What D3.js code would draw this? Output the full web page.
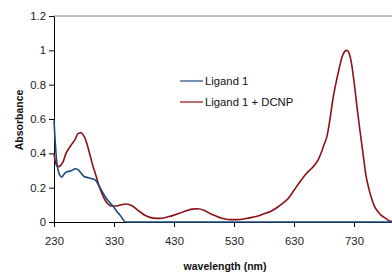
<!DOCTYPE html>
<html>
<head>
<meta charset="utf-8">
<script src="https://cdn.jsdelivr.net/npm/d3@7"></script>
<style>
  body { margin: 0; background: #fff; }
  svg { display: block; font-family: "Liberation Sans", Arial, sans-serif; }
  .tick text { font-size: 11.3px; fill: #222; }
</style>
</head>
<body>
<div id="chart"></div>
<script>
var width = 392, height = 273,
    margin = {top: 16, right: -4, bottom: 51, left: 54};

// Ligand 1
var blueNm  = [230,232,234,237,240,243,246,250,255,260,265,270,275,280,285,290,295,300,305,310,315,320,325,330,335,340,345,349,400,500,600,700,800];
var blueAbs = [0.59,0.47,0.37,0.30,0.27,0.262,0.275,0.29,0.295,0.30,0.31,0.305,0.285,0.265,0.26,0.255,0.25,0.24,0.21,0.18,0.15,0.125,0.105,0.085,0.06,0.04,0.015,0,0,0,0,0,0];

// Ligand 1 + DCNP
var redNm  = [230,233,237,241,245,250,255,260,265,270,275,280,285,290,295,300,305,310,315,320,326,333,340,350,360,370,380,390,400,410,420,430,440,450,460,470,480,490,500,510,520,530,540,550,560,570,580,590,600,610,620,630,640,650,660,670,675,680,685,690,695,700,705,710,715,718,721,725,730,735,740,745,750,755,760,765,770,775,780,785,790,800];
var redAbs = [0.40,0.34,0.322,0.33,0.35,0.40,0.43,0.455,0.48,0.515,0.52,0.50,0.455,0.39,0.325,0.27,0.21,0.165,0.128,0.105,0.093,0.093,0.099,0.105,0.095,0.068,0.042,0.027,0.021,0.022,0.03,0.04,0.052,0.065,0.075,0.077,0.068,0.05,0.035,0.022,0.015,0.014,0.015,0.02,0.027,0.035,0.048,0.06,0.08,0.105,0.135,0.185,0.235,0.28,0.315,0.36,0.40,0.45,0.50,0.60,0.72,0.81,0.89,0.96,0.995,1.0,0.99,0.94,0.82,0.67,0.53,0.40,0.27,0.19,0.13,0.085,0.06,0.04,0.028,0.015,0.006,0];

var xTicks = [230,330,430,530,630,730];
var yTicks = [0,0.2,0.4,0.6,0.8,1,1.2];
var seriesNames = ["Ligand 1", "Ligand 1 + DCNP"];
var seriesColors = ["#1b4a80", "#8c1016"];

var svg = d3.select("#chart").append("svg")
    .attr("width", width)
    .attr("height", height);

var x = d3.scaleLinear().domain([230, 800]).range([margin.left, width - margin.right]);
var y = d3.scaleLinear().domain([0, 1.2]).range([height - margin.bottom, margin.top]);

// top frame line
svg.append("line")
    .attr("x1", x(230)).attr("x2", width)
    .attr("y1", y(1.2)).attr("y2", y(1.2))
    .attr("stroke", "#808080");

var xAxis = svg.append("g")
    .attr("transform", "translate(0," + y(0) + ")")
    .call(d3.axisBottom(x).tickValues(xTicks).tickSize(5).tickSizeOuter(0).tickPadding(10).tickFormat(d3.format("d")));
xAxis.select(".domain").attr("stroke", "#000");

var yAxis = svg.append("g")
    .attr("transform", "translate(" + x(230) + ",0)")
    .call(d3.axisLeft(y).tickValues(yTicks).tickSize(5).tickSizeOuter(0).tickPadding(3).tickFormat(function(d) { return d; }));
yAxis.select(".domain").attr("stroke", "#000");

var line = d3.line()
    .x(function(d) { return x(d[0]); })
    .y(function(d) { return y(d[1]); })
    .curve(d3.curveMonotoneX);

svg.append("path")
    .datum(d3.zip(redNm, redAbs))
    .attr("fill", "none")
    .attr("stroke", seriesColors[1])
    .attr("stroke-width", 1.6)
    .attr("d", line);

svg.append("path")
    .datum(d3.zip(blueNm, blueAbs))
    .attr("fill", "none")
    .attr("stroke", seriesColors[0])
    .attr("stroke-width", 1.6)
    .attr("d", line);

// legend
var legend = svg.append("g").attr("transform", "translate(180,81)");
seriesNames.forEach(function(name, i) {
  legend.append("line")
      .attr("x1", 0).attr("x2", 23)
      .attr("y1", i * 21).attr("y2", i * 21)
      .attr("stroke", seriesColors[i])
      .attr("stroke-width", 1.2);
  legend.append("text")
      .attr("x", 25).attr("y", i * 21)
      .attr("dy", "0.35em")
      .attr("font-size", "11.3px")
      .attr("fill", "#111")
      .text(name);
});

// axis titles
svg.append("text")
    .attr("transform", "translate(23,120) rotate(-90)")
    .attr("text-anchor", "middle")
    .attr("font-size", "10.5px")
    .attr("font-weight", "bold")
    .attr("fill", "#111")
    .text("Absorbance");

svg.append("text")
    .attr("x", 225).attr("y", 270)
    .attr("text-anchor", "middle")
    .attr("font-size", "10.5px")
    .attr("font-weight", "bold")
    .attr("fill", "#111")
    .text("wavelength (nm)");
</script>
</body>
</html>
